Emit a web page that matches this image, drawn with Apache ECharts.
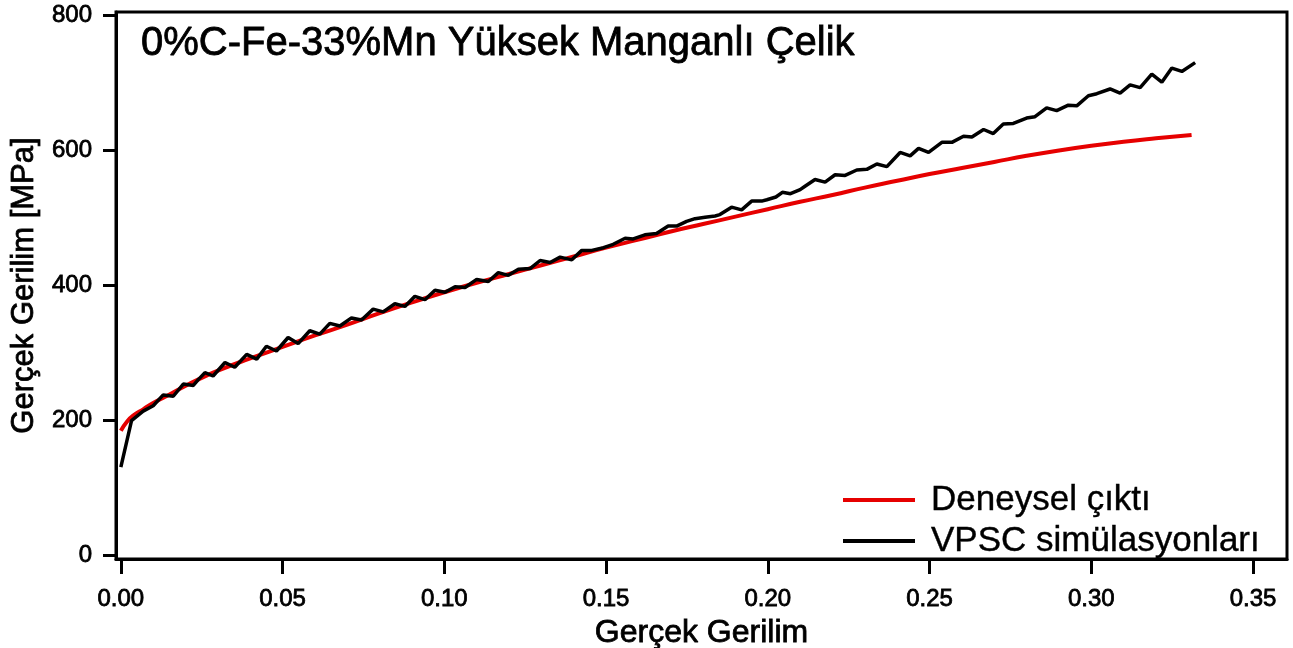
<!DOCTYPE html>
<html>
<head>
<meta charset="utf-8">
<script src="https://cdn.jsdelivr.net/npm/echarts@6/dist/echarts.min.js"></script>
<style>
  html, body { margin: 0; padding: 0; background: #fff; }
  #chart { width: 1293px; height: 648px; }
</style>
</head>
<body>
<div id="chart"></div>
<script>
// tick positions
const xTicks = [0, 0.05, 0.10, 0.15, 0.20, 0.25, 0.30, 0.35];
const yTicks = [0, 200, 400, 600, 800];
const seriesNames = ['Deneysel çıktı', 'VPSC simülasyonları'];

// Deneysel (strain, stress)
const deneysel = [
  [0, 185], [0.002, 199], [0.004, 208], [0.007, 217], [0.010, 226], [0.014, 236],
  [0.019, 249], [0.024, 261], [0.030, 274], [0.040, 292], [0.050, 309], [0.060, 326],
  [0.070, 342], [0.080, 359], [0.090, 375], [0.100, 390], [0.110, 404], [0.120, 417],
  [0.130, 430], [0.140, 443], [0.150, 456], [0.160, 468], [0.170, 480], [0.180, 491],
  [0.190, 502], [0.200, 513], [0.210, 524], [0.220, 534], [0.230, 545], [0.240, 555],
  [0.250, 565], [0.260, 574], [0.270, 583], [0.280, 592], [0.290, 600], [0.300, 607],
  [0.310, 613], [0.320, 618], [0.331, 623]
];

// VPSC (strain, stress)
const vpsc = [
  [0, 131], [0.0033, 200], [0.0069, 214], [0.0100, 222], [0.0131, 238], [0.0162, 236],
  [0.0193, 254], [0.0224, 252], [0.0240, 261], [0.0260, 271], [0.0285, 266], [0.0322, 286],
  [0.0352, 279], [0.0389, 298], [0.0420, 291], [0.0450, 310], [0.0481, 303], [0.0517, 323],
  [0.0548, 314], [0.0584, 333], [0.0615, 328], [0.0646, 344], [0.0677, 340], [0.0713, 352],
  [0.0744, 349], [0.0780, 365], [0.0811, 361], [0.0847, 373], [0.0878, 369], [0.0909, 384],
  [0.0940, 379], [0.0971, 393], [0.1002, 390], [0.1033, 398], [0.1064, 397], [0.1100, 409],
  [0.1136, 406], [0.1167, 419], [0.1198, 415], [0.1229, 424], [0.1265, 425], [0.1296, 437],
  [0.1327, 434], [0.1358, 442], [0.1394, 438], [0.1425, 452], [0.1456, 452], [0.1492, 456],
  [0.1522, 461], [0.1559, 470], [0.1584, 469], [0.1620, 475], [0.1656, 477], [0.1692, 488],
  [0.1718, 488], [0.1749, 495], [0.1775, 499], [0.1806, 501], [0.1837, 503], [0.1852, 505],
  [0.1888, 516], [0.1919, 512], [0.1950, 525], [0.1981, 525], [0.1997, 527], [0.2025, 531],
  [0.2045, 538], [0.2070, 536], [0.2100, 542], [0.2115, 547], [0.2146, 557], [0.2177, 553],
  [0.2208, 564], [0.2239, 563], [0.2275, 571], [0.2306, 572], [0.2337, 580], [0.2368, 576],
  [0.2409, 597], [0.2440, 592], [0.2466, 603], [0.2497, 597], [0.2538, 612], [0.2569, 612],
  [0.2605, 621], [0.2631, 620], [0.2667, 631], [0.2697, 625], [0.2728, 639], [0.2759, 640],
  [0.2800, 648], [0.2826, 650], [0.2862, 663], [0.2893, 659], [0.2929, 667], [0.2955, 666],
  [0.2991, 681], [0.3017, 684], [0.3058, 691], [0.3089, 685], [0.3120, 697], [0.3151, 693],
  [0.3187, 713], [0.3218, 701], [0.3249, 722], [0.3280, 717], [0.3321, 730]
];

const font = 'Liberation Sans, Arial, sans-serif';
// thin outline in the text colour to get the heavier look of the original
const heavy = { textBorderColor: '#000', textBorderWidth: 0.8 };
const chart = echarts.init(document.getElementById('chart'));

chart.setOption({
  animation: false,
  backgroundColor: '#fff',
  title: {
    text: '0%C-Fe-33%Mn Yüksek Manganlı Çelik',
    left: 136,
    top: 19,
    textStyle: Object.assign({ fontFamily: font, fontSize: 40, fontWeight: 'normal', color: '#000' }, heavy)
  },
  legend: {
    orient: 'vertical',
    left: 838,
    top: 477,
    itemWidth: 72,
    itemHeight: 4,
    itemGap: 5,
    icon: 'rect',
    data: seriesNames,
    textStyle: {
      fontFamily: font, fontSize: 35, color: '#000', lineHeight: 36,
      padding: [0, 0, 0, 11], textBorderColor: '#000', textBorderWidth: 0.4
    }
  },
  grid: {
    left: 116, right: 6, top: 12, bottom: 89,
    outerBoundsMode: 'none',
    show: true, borderColor: '#000', borderWidth: 3
  },
  xAxis: {
    type: 'value',
    min: -0.0015,
    max: 0.3605,
    name: 'Gerçek Gerilim',
    nameLocation: 'middle',
    nameGap: 51,
    nameTextStyle: Object.assign({ fontFamily: font, fontSize: 32, color: '#000' }, heavy),
    axisLine: { show: true, onZero: false, lineStyle: { color: '#000', width: 3 } },
    axisTick: { show: true, length: 15, lineStyle: { color: '#000', width: 3 }, customValues: xTicks },
    axisLabel: Object.assign({
      customValues: xTicks,
      fontFamily: font, fontSize: 24, color: '#000', margin: 28,
      formatter: v => v.toFixed(2)
    }, heavy),
    splitLine: { show: false }
  },
  yAxis: {
    type: 'value',
    min: -5,
    max: 805,
    name: 'Gerçek Gerilim [MPa]',
    nameLocation: 'middle',
    nameGap: 69,
    nameTextStyle: Object.assign({ fontFamily: font, fontSize: 31, color: '#000' }, heavy),
    axisLine: { show: true, onZero: false, lineStyle: { color: '#000', width: 3 } },
    axisTick: { show: true, length: 13, lineStyle: { color: '#000', width: 3 }, customValues: yTicks },
    axisLabel: Object.assign({ customValues: yTicks, fontFamily: font, fontSize: 24, color: '#000', margin: 24 }, heavy),
    splitLine: { show: false }
  },
  series: [
    {
      name: seriesNames[0],
      type: 'line',
      data: deneysel,
      symbol: 'none',
      smooth: true,
      lineStyle: { color: '#e60000', width: 4 },
      itemStyle: { color: '#e60000' },
      z: 2
    },
    {
      name: seriesNames[1],
      type: 'line',
      data: vpsc,
      symbol: 'none',
      lineStyle: { color: '#000', width: 3.5 },
      itemStyle: { color: '#000' },
      z: 3
    }
  ]
});
</script>
</body>
</html>
